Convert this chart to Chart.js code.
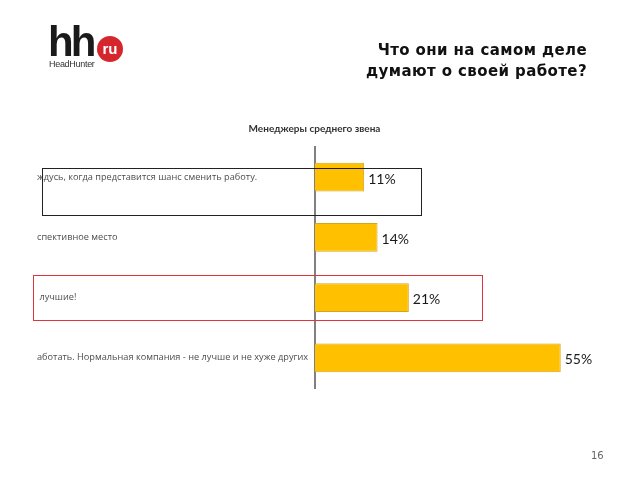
<!DOCTYPE html>
<html>
<head>
<meta charset="utf-8">
<script src="https://cdn.jsdelivr.net/npm/chart.js"></script>
<style>
  body { margin: 0; background: #fff; }
  #wrap { position: relative; width: 640px; height: 480px; overflow: hidden; }
  #logo-hh { position: absolute; left: 48px; top: 18px; font: bold 42px "Liberation Sans", Arial, sans-serif; letter-spacing: -3px; line-height: 48px; color: #1a1a1a; }
  #logo-ru { position: absolute; left: 97px; top: 36px; width: 26px; height: 26px; border-radius: 50%; background: #d6262d; color: #fff; font: bold 15px "Liberation Sans", Arial, sans-serif; text-align: center; line-height: 25px; }
  #logo-sub { position: absolute; left: 49px; top: 59px; font: 9px "Liberation Sans", Arial, sans-serif; letter-spacing: -0.3px; color: #333; }
  #heading { position: absolute; right: 53px; top: 40px; text-align: right; font: bold 15px "DejaVu Sans", Verdana, sans-serif; letter-spacing: 0.4px; line-height: 21px; color: #111; }
  #page { position: absolute; left: 591px; top: 450px; font: 10px "DejaVu Sans", sans-serif; color: #666; }
  .box { position: absolute; box-sizing: border-box; }
  #box1 { left: 42px; top: 168px; width: 380px; height: 48px; border: 1.5px solid #222; }
  #box2 { left: 33px; top: 275px; width: 450px; height: 46px; border: 1.5px solid #e0343c; }
  canvas { position: absolute; left: 0; top: 0; }
</style>
</head>
<body>
<div id="wrap">
  <canvas id="grafico" width="640" height="480"></canvas>
  <div id="logo-hh">hh</div>
  <div id="logo-ru">ru</div>
  <div id="logo-sub">HeadHunter</div>
  <div id="heading">Что они на самом деле<br>думают о своей работе?</div>
  <div id="page">16</div>
  <div class="box" id="box1"></div>
  <div class="box" id="box2"></div>
</div>
<script>
const ctx = 'grafico';

var respuestas = [
    "ждусь, когда представится шанс сменить работу.",
    "спективное место",
    " лучшие!",
    "аботать. Нормальная компания - не лучше и не хуже других"
];
var porcentajes = [11, 14, 21, 55];
var tituloGrafico = "Менеджеры среднего звена";

// etiquetas de valor a la derecha de cada barra
const etiquetasValor = {
    id: 'etiquetasValor',
    afterDatasetsDraw(chart) {
        const c = chart.ctx;
        const meta = chart.getDatasetMeta(0);
        c.save();
        c.font = '14px Lato, "Liberation Sans", sans-serif';
        c.fillStyle = '#1a1a1a';
        c.textAlign = 'left';
        c.textBaseline = 'middle';
        meta.data.forEach(function (bar, i) {
            c.fillText(porcentajes[i] + '%', bar.x + 4, bar.y + 2);
        });
        c.restore();
    }
};

const grafico = new Chart(ctx, {
    type: 'bar',
    data: {
        labels: respuestas,
        datasets: [{
            data: porcentajes,
            backgroundColor: '#FFC000',
            borderColor: '#d4a520',
            borderWidth: 1,
            barPercentage: 0.48,
            categoryPercentage: 1
        }]
    },
    options: {
        indexAxis: 'y',
        responsive: false,
        animation: false,
        layout: {
            padding: { left: 37, right: 48, top: 123, bottom: 92 }
        },
        plugins: {
            legend: { display: false },
            tooltip: { enabled: false },
            title: {
                display: true,
                text: tituloGrafico,
                color: '#333',
                font: { family: 'Lato, "Liberation Sans", sans-serif', size: 10, weight: 'bold' },
                padding: { top: 0, bottom: 12 }
            }
        },
        scales: {
            x: {
                display: false,
                min: 0,
                max: 62
            },
            y: {
                afterFit: function (scale) { scale.width = 278; },
                grid: { display: false, drawTicks: false },
                border: { display: true, color: '#808080', width: 2 },
                ticks: {
                    crossAlign: 'far',
                    padding: 0,
                    color: '#4d4d4d',
                    font: { family: '"Open Sans", "Liberation Sans", sans-serif', size: 9.2 }
                }
            }
        }
    },
    plugins: [etiquetasValor]
});
</script>
</body>
</html>
